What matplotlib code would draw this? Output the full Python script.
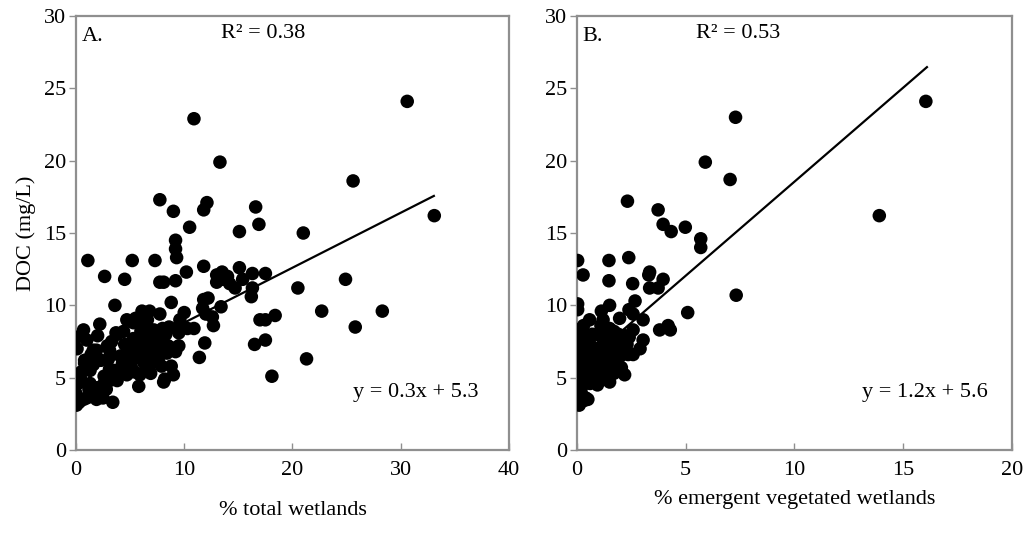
import numpy as np
import matplotlib
matplotlib.use("Agg")
from matplotlib import pyplot as plt

plt.rcParams['font.family'] = ['Liberation Serif', 'DejaVu Serif']

# Panel A: % total wetlands vs DOC
total_x = [10.9, 30.6, 13.3, 25.6, 33.1, 7.75, 9.0, 12.1, 11.8, 16.6, 16.9, 10.5, 15.1, 21.0,
           9.2, 9.2, 9.3, 1.1, 5.2, 7.3, 11.8, 15.1, 10.2, 2.65, 4.5, 7.75, 8.1, 9.2,
           13.0, 13.5, 14.0, 13.0, 13.6, 14.2, 14.7, 15.4, 16.3, 17.5, 16.3, 16.2, 20.5, 24.9,
           3.6, 8.8, 11.8, 12.2, 11.7, 12.0, 12.6, 12.7, 13.4, 17.0, 17.5, 18.4, 22.7, 28.3,
           25.8, 16.5, 17.5, 21.3, 18.1, 11.4, 11.9, 10.0, 9.6, 9.3, 10.3, 10.9, 9.5, 9.5,
           9.0, 8.8, 8.1, 8.2, 5.8, 6.9, 6.1, 6.8, 7.75, 4.7, 5.3, 6.6, 6.7, 6.8,
           3.7, 4.4, 2.2, 0.7, 1.0, 2.0, 1.6, 1.9, 0.8, 0.5,
           0.0, 0.05, 0.7, 1.0, 1.4, 1.9, 2.5, 3.4, 0.3, 1.2,
           1.3, 1.9, 2.5, 2.8, 3.1,
           0.8, 1.3, 3.1, 3.6, 4.1, 4.5, 5.0, 5.4, 5.9,
           1.4, 3.1, 4.1, 4.5, 5.0, 5.6, 6.1, 6.5, 7.0, 7.4,
           3.3, 3.8, 4.5, 5.3, 5.8, 6.2, 6.8, 7.4, 8.1, 8.5,
           7.0, 7.6, 7.9, 8.4, 8.7, 4.7, 5.1, 9.2, 8.0, 8.6, 5.5, 6.4, 7.2, 4.8,
           2.6, 3.8, 4.3, 6.3, 5.8, 6.0, 7.2, 2.3, 0.2, 0.4, 1.6, 3.0, 6.6, 7.7, 8.3, 2.9,
           0.1, 0.1]
total_doc = [22.9, 24.1, 19.9, 18.6, 16.2, 17.3, 16.5, 17.1, 16.6, 16.8, 15.6, 15.4, 15.1, 15.0,
             14.5, 13.9, 13.3, 13.1, 13.1, 13.1, 12.7, 12.6, 12.3, 12.0, 11.8, 11.6, 11.6, 11.7,
             12.1, 12.3, 12.0, 11.6, 11.8, 11.5, 11.2, 11.8, 12.2, 12.2, 11.2, 10.6, 11.2, 11.8,
             10.0, 10.2, 10.4, 10.5, 9.8, 9.4, 9.2, 8.6, 9.9, 9.0, 9.0, 9.3, 9.6, 9.6,
             8.5, 7.3, 7.6, 6.3, 5.1, 6.4, 7.4, 9.5, 9.0, 8.4, 8.4, 8.4, 8.1, 7.2,
             5.2, 5.8, 4.7, 4.9, 4.4, 5.3, 9.6, 9.6, 9.4, 9.0, 8.8, 9.0, 8.4, 8.1,
             8.1, 8.2, 8.7, 8.3, 7.6, 7.9, 6.9, 6.9, 6.2, 5.4,
             3.9, 3.1, 3.5, 3.6, 3.8, 3.5, 3.6, 3.3, 3.3, 4.2,
             4.6, 4.3, 4.5, 4.2, 4.8,
             6.0, 5.5, 5.6, 5.5, 5.3, 5.5, 5.6, 5.4, 5.2,
             6.6, 6.9, 6.5, 6.3, 6.6, 6.4, 6.8, 6.9, 6.5, 6.3,
             7.5, 8.0, 7.3, 7.7, 7.5, 7.9, 7.4, 7.6, 7.3, 7.2,
             6.0, 6.2, 5.8, 6.7, 7.1, 5.2, 5.8, 6.8, 8.4, 8.5, 9.1, 8.6, 8.3, 7.0,
             5.1, 4.8, 6.0, 6.0, 7.1, 8.2, 7.0, 6.2, 4.6, 5.0, 5.9, 6.3, 5.6, 6.7, 8.0, 7.2,
             7.8, 7.0]

# Panel B: % emergent vegetated wetlands vs DOC
emerg_x = [16.04, 7.29, 5.9, 7.04, 13.9, 2.32, 3.73, 3.96, 4.33, 4.98, 5.69, 5.69, 0.03, 1.47,
           2.38, 0.28, 1.47, 3.34, 3.3, 3.34, 3.73, 3.96, 2.56, 7.32, 5.09, 2.67, 2.39, 1.5,
           1.12, 0.03, 0.03, 0.58, 2.58, 3.04, 3.8, 4.19, 4.29, 1.96, 1.2, 2.58, 3.04, 2.9,
           2.58, 2.35, 2.19, 2.04, 1.5, 0.94,
           0.0, 0.1, 0.3, 0.7, 0.9, 0.05, 0.2, 1.3, 1.5, 1.7, 1.9, 2.1, 2.2, 2.4,
           1.2, 1.4, 1.6, 1.8, 2.0, 2.3, 0.0, 0.2, 0.4, 0.6, 0.8, 1.0, 1.2, 1.4,
           1.6, 1.8, 0.0, 0.2, 0.4, 0.6, 0.8, 1.0, 1.2, 1.4, 1.6, 1.8, 0.0, 0.2,
           0.4, 0.6, 0.8, 1.0, 1.2, 1.4, 0.0, 0.2, 0.4, 0.6, 0.0, 0.2, 0.4, 0.0,
           0.1, 0.3, 0.5, 0.2, 0.7, 0.5, 1.1, 1.5, 2.0, 0.9, 0.6, 0.3, 1.1, 1.0,
           1.7, 1.9]
emerg_doc = [24.1, 23.0, 19.9, 18.7, 16.2, 17.2, 16.6, 15.6, 15.1, 15.4, 14.6, 14.0, 13.1, 13.1,
             13.3, 12.1, 11.7, 12.3, 12.1, 11.2, 11.2, 11.8, 11.5, 10.7, 9.5, 10.3, 9.7, 10.0,
             9.6, 10.1, 9.7, 9.0, 9.4, 9.0, 8.3, 8.6, 8.3, 9.1, 9.0, 8.3, 7.6, 7.0,
             6.6, 6.6, 5.2, 5.7, 4.7, 4.5,
             8.3, 8.0, 7.9, 8.0, 8.0, 7.5, 7.2, 8.3, 8.4, 8.2, 8.0, 7.7, 7.9, 7.8,
             7.6, 7.4, 7.6, 7.3, 7.2, 7.3, 6.6, 6.4, 6.8, 6.6, 6.3, 6.7, 6.9, 6.5,
             6.8, 6.6, 5.9, 6.0, 5.7, 6.0, 5.8, 5.6, 5.9, 6.1, 5.8, 6.0, 5.2, 5.4,
             5.0, 5.3, 5.1, 5.4, 5.1, 5.5, 4.6, 4.3, 4.8, 4.6, 4.0, 3.8, 3.6, 3.3,
             3.1, 3.4, 3.5, 3.9, 4.9, 6.2, 6.2, 6.3, 6.5, 7.0, 7.3, 8.6, 8.6, 4.9,
             5.3, 6.9]

# regression lines as drawn (slope, intercept, x range)
fit_a = (0.38, 5.0, 1.0, 33.06)
fit_b = (1.30, 5.55, 0.3, 16.09)

panels = [
    dict(x=total_x, y=total_doc, fit=fit_a, xmax=40, xticks=[0, 10, 20, 30, 40],
         letter="A.", r2="R² = 0.38", r2x=17.3, eq="y = 0.3x + 5.3", eqx=31.4,
         xlabel="% total wetlands", pad=15, rect=[0.0736, 0.1573, 0.4196, 0.8127]),
    dict(x=emerg_x, y=emerg_doc, fit=fit_b, xmax=20, xticks=[0, 5, 10, 15, 20],
         letter="B.", r2="R² = 0.53", r2x=7.4, eq="y = 1.2x + 5.6", eqx=16.0,
         xlabel="% emergent vegetated wetlands", pad=7, rect=[0.5591, 0.1573, 0.4215, 0.8127]),
]

fig = plt.figure(figsize=(10.32, 5.34), dpi=100)

for i, p in enumerate(panels):
    ax = fig.add_axes(p['rect'])
    ax.scatter(p['x'], p['y'], s=95, color='black', edgecolors='none', zorder=3)
    m, b, x0, x1 = p['fit']
    xs = np.array([x0, x1])
    ax.plot(xs, m * xs + b, color='black', lw=1.6, zorder=2)
    ax.set_xlim(0, p['xmax'])
    ax.set_ylim(0, 30)
    ax.set_xticks(p['xticks'])
    ax.set_yticks([0, 5, 10, 15, 20, 25, 30])
    for s in ax.spines.values():
        s.set_color('#8f8f8f')
        s.set_linewidth(1.6)
    ax.tick_params(axis='x', direction='in', length=5, width=1, color='#8f8f8f',
                   labelsize=16, pad=8)
    ax.tick_params(axis='y', direction='out', length=5, width=1, color='#8f8f8f',
                   labelsize=16, pad=2)
    ax.text(0.013, 0.975, p['letter'], transform=ax.transAxes, fontsize=16,
            ha='left', va='top')
    ax.text(p['r2x'], 28.8, p['r2'], fontsize=16, ha='center', va='center')
    ax.text(p['eqx'], 4.0, p['eq'], fontsize=16, ha='center', va='center')
    ax.set_xlabel(p['xlabel'], fontsize=16, labelpad=p['pad'])
    if i == 0:
        ax.set_ylabel("DOC (mg/L)", fontsize=16, labelpad=6)

fig.savefig("out.png", dpi=100)
